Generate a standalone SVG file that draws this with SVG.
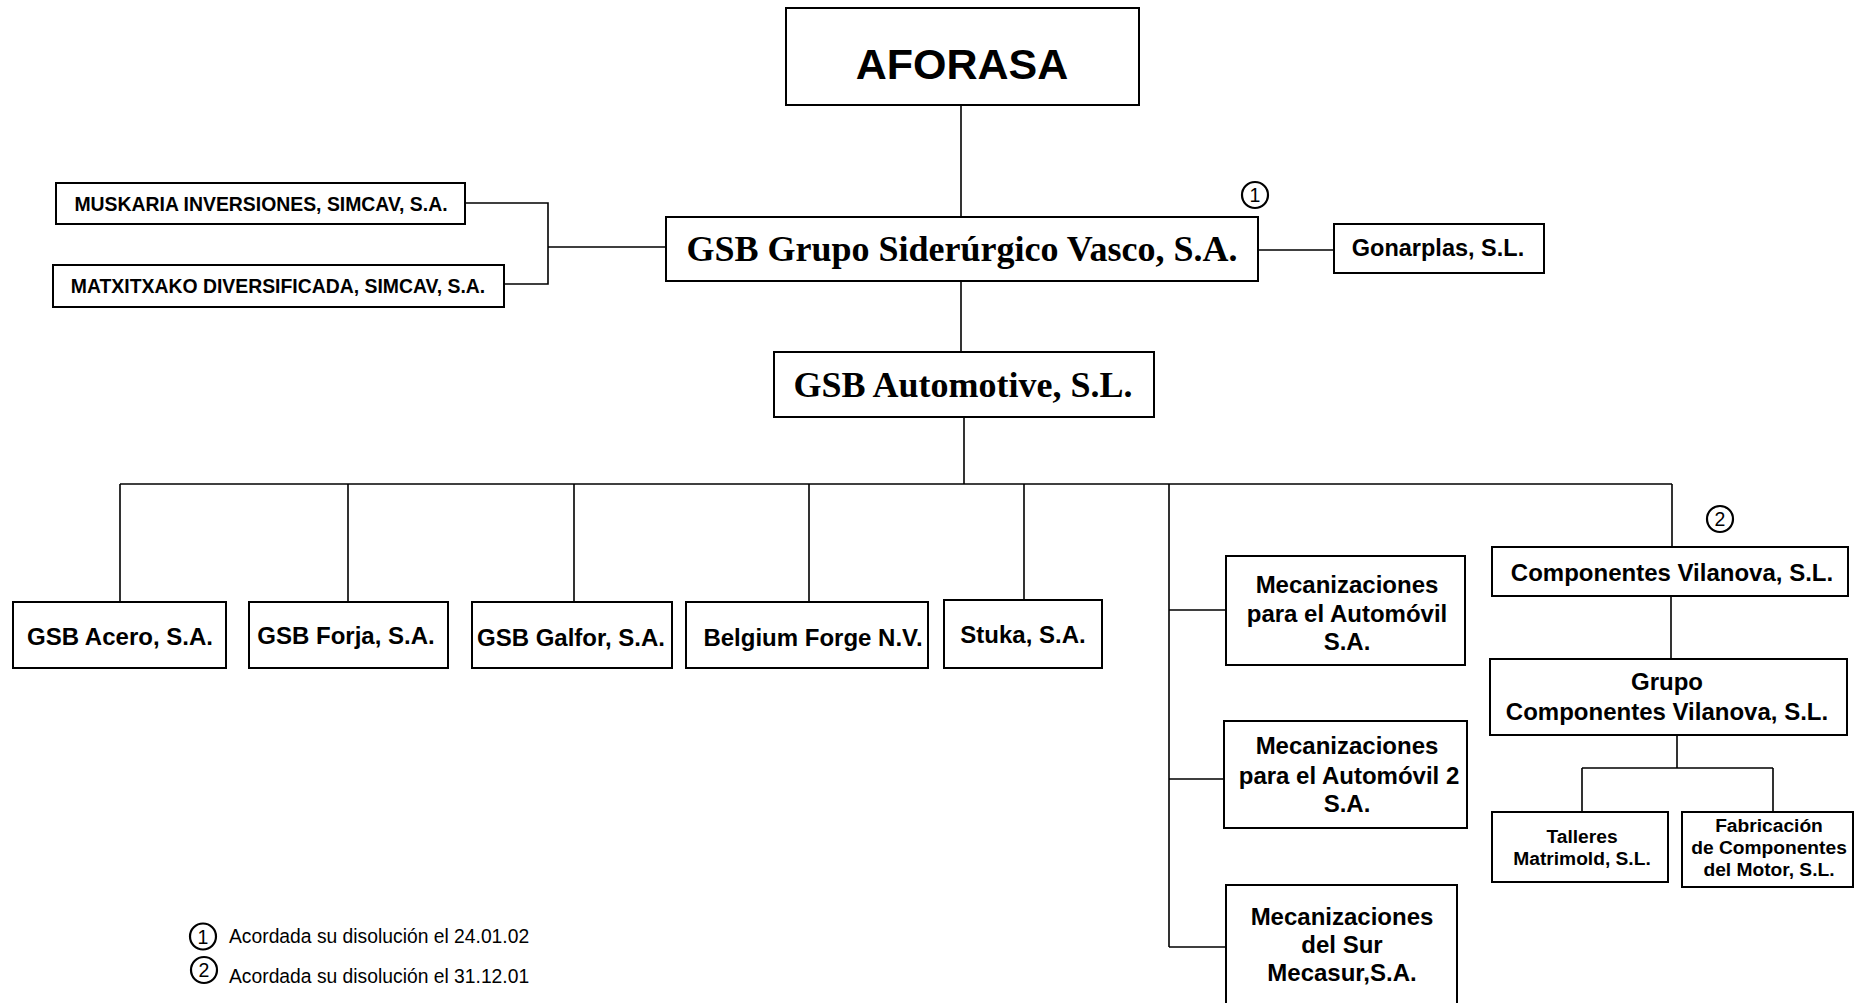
<svg xmlns="http://www.w3.org/2000/svg" width="1861" height="1003" viewBox="0 0 1861 1003">
<style>
.box{fill:#fff;stroke:#000;stroke-width:2}
.ln{fill:none;stroke:#000;stroke-width:1.6}
.b{font-family:"Liberation Sans",Arial,sans-serif;font-weight:bold;fill:#000;text-anchor:middle}
.s{font-family:"Liberation Serif","Times New Roman",serif;font-weight:bold;fill:#000;text-anchor:middle}
.r{font-family:"Liberation Sans",Arial,sans-serif;fill:#000}
.c{fill:#fff;stroke:#000;stroke-width:2.2}
.m{font-size:24px}
.sm{font-size:19.2px}
.t{font-size:19.4px}
</style>
<rect width="1861" height="1003" fill="#fff"/>
<g id="connectors">
<path class="ln" d="M961 105V217"/>
<path class="ln" d="M465 203H548V284H504M548 247H666"/>
<path class="ln" d="M1258 250H1334"/>
<path class="ln" d="M961 281V352"/>
<path class="ln" d="M964 417V484"/>
<path class="ln" d="M120 484H1672"/>
<path class="ln" d="M120 484V602M348 484V602M574 484V602M809 484V602M1024 484V603"/>
<path class="ln" d="M1169 484V947M1169 610H1226M1169 779H1224M1169 947H1226"/>
<path class="ln" d="M1672 484V547"/>
<path class="ln" d="M1671 596V659"/>
<path class="ln" d="M1677 735V768M1582 768H1773M1582 768V812M1773 768V812"/>
</g>
<g id="aforasa"><rect class="box" x="786" y="8" width="353" height="97"/><text class="b" x="962" y="79" font-size="43">AFORASA</text></g>
<g id="muskaria"><rect class="box" x="56" y="183" width="409" height="41"/><text class="b t" x="261" y="211">MUSKARIA INVERSIONES, SIMCAV, S.A.</text></g>
<g id="matxitxako"><rect class="box" x="53" y="265" width="451" height="42"/><text class="b t" x="278" y="293">MATXITXAKO DIVERSIFICADA, SIMCAV, S.A.</text></g>
<g id="gsb-grupo"><rect class="box" x="666" y="217" width="592" height="64"/><text class="s" x="962" y="261" font-size="36">GSB Grupo Siderúrgico Vasco, S.A.</text></g>
<g id="note1"><circle class="c" cx="1255" cy="195" r="13"/><text class="r" x="1255" y="202" font-size="19.5" text-anchor="middle">1</text></g>
<g id="gonarplas"><rect class="box" x="1334" y="224" width="210" height="49"/><text class="b" x="1438" y="256" font-size="23.5">Gonarplas, S.L.</text></g>
<g id="gsb-automotive"><rect class="box" x="774" y="352" width="380" height="65"/><text class="s" x="963" y="397" font-size="36">GSB Automotive, S.L.</text></g>
<g id="gsb-acero"><rect class="box" x="13" y="602" width="213" height="66"/><text class="b m" x="120" y="645">GSB Acero, S.A.</text></g>
<g id="gsb-forja"><rect class="box" x="249" y="602" width="199" height="66"/><text class="b m" x="346" y="644">GSB Forja, S.A.</text></g>
<g id="gsb-galfor"><rect class="box" x="472" y="602" width="200" height="66"/><text class="b m" x="571" y="646">GSB Galfor, S.A.</text></g>
<g id="belgium"><rect class="box" x="686" y="602" width="242" height="66"/><text class="b m" x="813" y="646">Belgium Forge N.V.</text></g>
<g id="stuka"><rect class="box" x="944" y="600" width="158" height="68"/><text class="b m" x="1023" y="643">Stuka, S.A.</text></g>
<g id="mec1"><rect class="box" x="1226" y="556" width="239" height="109"/><text class="b m"><tspan x="1347" y="593">Mecanizaciones</tspan><tspan x="1347" y="622">para el Automóvil</tspan><tspan x="1347" y="650">S.A.</tspan></text></g>
<g id="mec2"><rect class="box" x="1224" y="721" width="243" height="107"/><text class="b m"><tspan x="1347" y="754">Mecanizaciones</tspan><tspan x="1349" y="784">para el Automóvil 2</tspan><tspan x="1347" y="812">S.A.</tspan></text></g>
<g id="mec3"><rect class="box" x="1226" y="885" width="231" height="130"/><text class="b m"><tspan x="1342" y="925">Mecanizaciones</tspan><tspan x="1342" y="953">del Sur</tspan><tspan x="1342" y="981">Mecasur,S.A.</tspan></text></g>
<g id="note2"><circle class="c" cx="1720" cy="519" r="13"/><text class="r" x="1720" y="526" font-size="19.5" text-anchor="middle">2</text></g>
<g id="comp-vilanova"><rect class="box" x="1492" y="547" width="356" height="49"/><text class="b m" x="1672" y="581">Componentes Vilanova, S.L.</text></g>
<g id="grupo-comp"><rect class="box" x="1490" y="659" width="357" height="76"/><text class="b m"><tspan x="1667" y="690">Grupo</tspan><tspan x="1667" y="720">Componentes Vilanova, S.L.</tspan></text></g>
<g id="talleres"><rect class="box" x="1492" y="812" width="176" height="70"/><text class="b sm"><tspan x="1582" y="843">Talleres</tspan><tspan x="1582" y="865">Matrimold, S.L.</tspan></text></g>
<g id="fabricacion"><rect class="box" x="1682" y="812" width="171" height="75"/><text class="b sm"><tspan x="1769" y="832">Fabricación</tspan><tspan x="1769" y="854">de Componentes</tspan><tspan x="1769" y="876">del Motor, S.L.</tspan></text></g>
<g id="legend">
<circle class="c" cx="203" cy="936.5" r="13"/><text class="r" x="203" y="943.5" font-size="19.5" text-anchor="middle">1</text>
<text class="r" x="229" y="943" font-size="19.3">Acordada su disolución el 24.01.02</text>
<circle class="c" cx="204" cy="970" r="13"/><text class="r" x="204" y="977" font-size="19.5" text-anchor="middle">2</text>
<text class="r" x="229" y="983" font-size="19.3">Acordada su disolución el 31.12.01</text>
</g>
</svg>
